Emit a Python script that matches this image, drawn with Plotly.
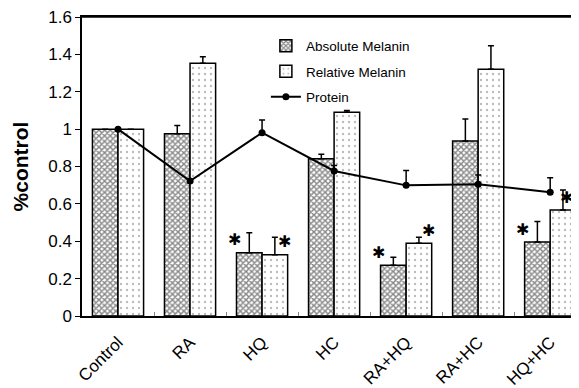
import plotly.graph_objects as go

categories = ["Control", "RA", "HQ", "HC", "RA+HQ", "RA+HC", "HQ+HC"]
absolute = [1.00, 0.975, 0.339, 0.842, 0.271, 0.936, 0.396]
absolute_err = [0.0, 0.045, 0.107, 0.023, 0.043, 0.118, 0.11]
relative = [1.00, 1.352, 0.328, 1.09, 0.389, 1.32, 0.567]
relative_err = [0.0, 0.035, 0.093, 0.01, 0.032, 0.126, 0.107]
protein = [1.00, 0.722, 0.981, 0.776, 0.699, 0.705, 0.662]
protein_err = [0.0, 0.0, 0.068, 0.03, 0.08, 0.05, 0.078]
sig_abs = [0, 0, 1, 0, 1, 0, 1]
sig_rel = [0, 0, 1, 0, 1, 0, 1]
y_ticks = [0, 0.2, 0.4, 0.6, 0.8, 1.0, 1.2, 1.4, 1.6]
y_labels = ["0", "0.2", "0.4", "0.6", "0.8", "1", "1.2", "1.4", "1.6"]

FONT = "Liberation Sans, Arial, sans-serif"

fig = go.Figure()
fig.add_trace(go.Bar(
    x=categories, y=absolute, name="Absolute Melanin", legendgroup="a",
    marker=dict(color="white", line=dict(color="black", width=1.5),
                pattern=dict(shape="x", size=4, solidity=0.6,
                             fgcolor="#111111", bgcolor="white")),
    error_y=dict(type="data", array=absolute_err, arrayminus=[0] * 7,
                 symmetric=False, color="black", thickness=1.5, width=3),
))
fig.add_trace(go.Bar(
    x=categories, y=relative, name="Relative Melanin", legendgroup="b",
    marker=dict(color="white", line=dict(color="black", width=1.5),
                pattern=dict(shape=".", size=6, solidity=0.12,
                             fgcolor="#777777", bgcolor="white")),
    error_y=dict(type="data", array=relative_err, arrayminus=[0] * 7,
                 symmetric=False, color="black", thickness=1.5, width=3),
))
fig.add_trace(go.Scatter(
    x=categories, y=protein, name="Protein", legendgroup="c",
    mode="lines+markers",
    line=dict(color="black", width=2),
    marker=dict(color="black", size=7, symbol="circle"),
    error_y=dict(type="data", array=protein_err, arrayminus=[0] * 7,
                 symmetric=False, color="black", thickness=1.5, width=3),
))

for i, c in enumerate(categories):
    if sig_abs[i]:
        fig.add_annotation(x=c, y=absolute[i], xref="x", yref="y", text="✱",
                           showarrow=False, xshift=-28, yshift=13,
                           yanchor="middle",
                           font=dict(family="DejaVu Sans", size=16, color="black"))
    if sig_rel[i]:
        fig.add_annotation(x=c, y=relative[i], xref="x", yref="y", text="✱",
                           showarrow=False, xshift=22 if i < 6 else 16, yshift=13,
                           yanchor="middle",
                           font=dict(family="DejaVu Sans", size=16, color="black"))

fig.add_shape(type="line", xref="x domain", yref="y domain",
              x0=0, x1=1, y0=1, y1=1, line=dict(color="black", width=1.5))

fig.update_layout(
    width=571, height=388,
    margin=dict(l=74, r=0, t=9, b=80),
    paper_bgcolor="white", plot_bgcolor="white",
    barmode="group", bargap=0.29, bargroupgap=0,
    font=dict(family=FONT, color="black"),
    showlegend=True,
    legend=dict(x=0.37, y=0.955, xanchor="left", yanchor="top",
                bgcolor="rgba(0,0,0,0)", font=dict(size=13.5, family=FONT),
                tracegroupgap=5, traceorder="grouped"),
)
fig.update_xaxes(
    range=[-0.5, 6.4], showline=True, linecolor="black", linewidth=1.5,
    mirror=True, ticks="inside", tickson="boundaries", ticklen=4,
    tickcolor="#888888", tickangle=-45, tickfont=dict(size=17, family=FONT),
    ticklabelstandoff=8, ticklabeloverflow="allow",
    showgrid=False, automargin=False,
)
fig.update_yaxes(
    range=[0, 1.6], tickvals=y_ticks, ticktext=y_labels,
    showline=True, linecolor="black", linewidth=1.5, mirror=False,
    ticks="outside", ticklen=5, tickcolor="black", ticklabeloverflow="allow",
    tickfont=dict(size=17, family=FONT), showgrid=False, zeroline=False,
    automargin=False,
    title=dict(text="<b>%control</b>", font=dict(size=21, family=FONT), standoff=14),
)

fig.write_html("out.html")
